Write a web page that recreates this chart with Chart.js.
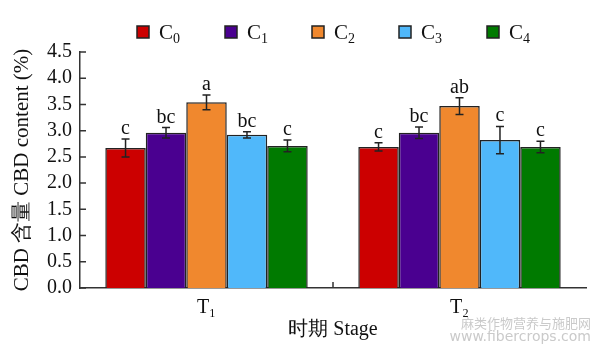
<!DOCTYPE html>
<html>
<head>
<meta charset="utf-8">
<script src="https://cdn.jsdelivr.net/npm/chart.js@4"></script>
<style>
  html, body { margin: 0; padding: 0; background: #fff; }
  #wrap { width: 593px; height: 346px; position: relative; }
</style>
</head>
<body>
<div id="wrap"><canvas id="cbd-canvas"></canvas></div>
<script>
// data
const stages = ["T\u2081", "T\u2082"];
const seriesNames = ["C0", "C1", "C2", "C3", "C4"];
const seriesColors = ["#cc0000", "#4a0090", "#f0882e", "#50b8fa", "#007a00"];
const c0 = [2.67, 2.69];
const c1 = [2.96, 2.96];
const c2 = [3.54, 3.47];
const c3 = [2.92, 2.82];
const c4 = [2.71, 2.69];
const c0Err = [0.17, 0.08];
const c1Err = [0.10, 0.11];
const c2Err = [0.14, 0.16];
const c3Err = [0.06, 0.26];
const c4Err = [0.11, 0.11];
const c0Sig = ["c", "c"];
const c1Sig = ["bc", "bc"];
const c2Sig = ["a", "ab"];
const c3Sig = ["bc", "c"];
const c4Sig = ["c", "c"];
const yTicks = [0, 0.5, 1, 1.5, 2, 2.5, 3, 3.5, 4, 4.5];

const values = [c0, c1, c2, c3, c4];
const errors = [c0Err, c1Err, c2Err, c3Err, c4Err];
const letters = [c0Sig, c1Sig, c2Sig, c3Sig, c4Sig];

const serif = "'Liberation Serif', 'Times New Roman', serif";
const ink = "#222";

// error bars, significance letters, inward ticks, legend, watermark
const extras = {
  id: "extras",
  afterDatasetsDraw(chart) {
    const ctx = chart.ctx;
    const y = chart.scales.y;
    ctx.save();
    chart.data.datasets.forEach(function (ds, i) {
      chart.getDatasetMeta(i).data.forEach(function (bar, j) {
        let top = y.getPixelForValue(values[i][j] + errors[i][j]);
        let bot = y.getPixelForValue(values[i][j] - errors[i][j]);
        ctx.strokeStyle = ink;
        ctx.lineWidth = 1.5;
        ctx.beginPath();
        ctx.moveTo(bar.x, top); ctx.lineTo(bar.x, bot);
        ctx.moveTo(bar.x - 4, top); ctx.lineTo(bar.x + 4, top);
        ctx.moveTo(bar.x - 4, bot); ctx.lineTo(bar.x + 4, bot);
        ctx.stroke();
        ctx.fillStyle = "#111";
        ctx.font = "20px " + serif;
        ctx.textAlign = "center";
        ctx.textBaseline = "alphabetic";
        ctx.fillText(letters[i][j], bar.x, top - 5);
      });
    });
    ctx.restore();
  },
  afterDraw(chart) {
    const ctx = chart.ctx;
    const area = chart.chartArea;
    const y = chart.scales.y;
    ctx.save();
    ctx.strokeStyle = "#333";
    ctx.lineWidth = 1.5;
    ctx.beginPath();
    yTicks.forEach(function (v) {
      let py = y.getPixelForValue(v);
      ctx.moveTo(area.left, py); ctx.lineTo(area.left + 6, py);
    });
    let mid = (area.left + area.right) / 2;
    ctx.moveTo(mid, area.bottom); ctx.lineTo(mid, area.bottom - 6);
    ctx.stroke();

    // legend
    let lx = [137, 225, 312, 399, 487];
    seriesNames.forEach(function (name, i) {
      ctx.fillStyle = seriesColors[i];
      ctx.fillRect(lx[i], 26, 12, 12);
      ctx.strokeStyle = ink;
      ctx.lineWidth = 1.5;
      ctx.strokeRect(lx[i], 26, 12, 12);
      ctx.fillStyle = "#111";
      ctx.textAlign = "left";
      ctx.textBaseline = "alphabetic";
      ctx.font = "21px " + serif;
      ctx.fillText(name.charAt(0), lx[i] + 22, 39);
      let w = ctx.measureText(name.charAt(0)).width;
      ctx.font = "14px " + serif;
      ctx.fillText(name.slice(1), lx[i] + 22 + w, 43);
    });

    // watermark
    ctx.fillStyle = "#cacaca";
    ctx.textAlign = "right";
    ctx.textBaseline = "middle";
    ctx.font = "13px 'Noto Sans CJK SC', sans-serif";
    ctx.fillText("麻类作物营养与施肥网", 591, 323);
    ctx.font = "14px 'DejaVu Sans', sans-serif";
    ctx.fillText("www.fibercrops.com", 591, 337);
    ctx.restore();
  }
};

new Chart(document.getElementById("cbd-canvas"), {
  type: "bar",
  data: {
    labels: stages,
    datasets: seriesNames.map(function (name, i) {
      return {
        label: name,
        data: values[i],
        backgroundColor: seriesColors[i],
        borderColor: ink,
        borderWidth: 1.5,
        categoryPercentage: 0.8,
        barPercentage: 1.0
      };
    })
  },
  options: {
    responsive: true,
    maintainAspectRatio: false,
    animation: false,
    layout: { padding: { top: 52, right: 7, left: 0, bottom: 0 } },
    plugins: {
      legend: { display: false },
      tooltip: { enabled: false }
    },
    scales: {
      x: {
        afterFit: function (s) { s.height = 58; },
        grid: { display: false, drawTicks: false },
        border: { display: true, color: "#333", width: 1.5 },
        ticks: { color: "#111", padding: 8, font: { family: serif, size: 20 } },
        title: {
          display: true,
          text: "时期 Stage",
          color: "#111",
          padding: { top: 0, bottom: 4 },
          font: { family: serif, size: 20 }
        }
      },
      y: {
        min: 0,
        max: 4.5,
        afterFit: function (s) { s.width = 80; },
        afterBuildTicks: function (s) { s.ticks = yTicks.map(function (v) { return { value: v }; }); },
        grid: { display: false, drawTicks: false },
        border: { display: true, color: "#333", width: 1.5 },
        ticks: {
          color: "#111",
          padding: 8,
          autoSkip: false,
          font: { family: serif, size: 20 },
          callback: function (v) { return Number(v).toFixed(1); }
        },
        title: {
          display: true,
          text: "CBD 含量 CBD content (%)",
          color: "#111",
          padding: { top: 10, bottom: 0 },
          font: { family: serif, size: 21 }
        }
      }
    }
  },
  plugins: [extras]
});
</script>
</body>
</html>
